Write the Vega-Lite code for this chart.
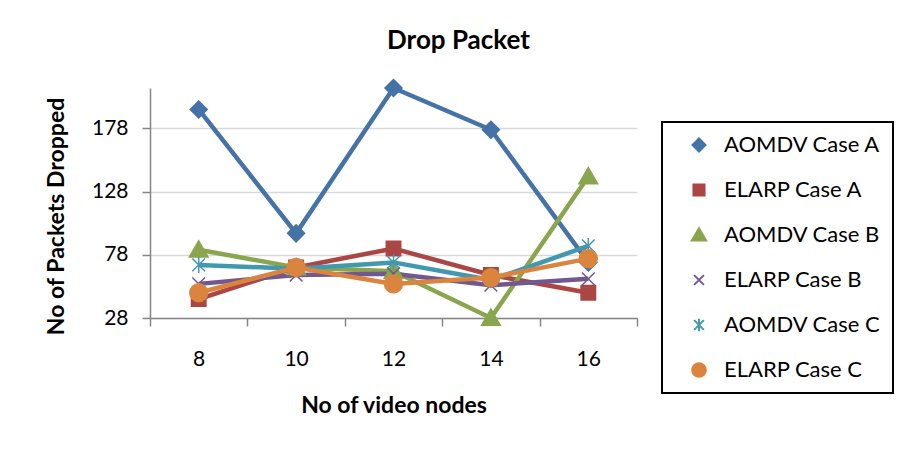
{
  "$schema": "https://vega.github.io/schema/vega-lite/v6.json",
  "width": 487,
  "height": 230,
  "padding": {"left": 45, "top": 27, "right": 5, "bottom": 5},
  "background": "white",
  "title": {"text": "Drop Packet", "font": "Lato", "fontSize": 26, "fontWeight": "bold", "color": "#000000", "anchor": "middle", "dx": 65, "offset": 23},
  "data": {
    "values": [
      {"series": "AOMDV Case A", "nodes": 8, "dropped": 193},
      {"series": "AOMDV Case A", "nodes": 10, "dropped": 95},
      {"series": "AOMDV Case A", "nodes": 12, "dropped": 210},
      {"series": "AOMDV Case A", "nodes": 14, "dropped": 177},
      {"series": "AOMDV Case A", "nodes": 16, "dropped": 72},
      {"series": "ELARP Case A", "nodes": 8, "dropped": 43},
      {"series": "ELARP Case A", "nodes": 10, "dropped": 68},
      {"series": "ELARP Case A", "nodes": 12, "dropped": 83},
      {"series": "ELARP Case A", "nodes": 14, "dropped": 62},
      {"series": "ELARP Case A", "nodes": 16, "dropped": 48},
      {"series": "AOMDV Case B", "nodes": 8, "dropped": 82},
      {"series": "AOMDV Case B", "nodes": 10, "dropped": 68},
      {"series": "AOMDV Case B", "nodes": 12, "dropped": 65},
      {"series": "AOMDV Case B", "nodes": 14, "dropped": 28},
      {"series": "AOMDV Case B", "nodes": 16, "dropped": 140},
      {"series": "ELARP Case B", "nodes": 8, "dropped": 55},
      {"series": "ELARP Case B", "nodes": 10, "dropped": 62},
      {"series": "ELARP Case B", "nodes": 12, "dropped": 63},
      {"series": "ELARP Case B", "nodes": 14, "dropped": 54},
      {"series": "ELARP Case B", "nodes": 16, "dropped": 59},
      {"series": "AOMDV Case C", "nodes": 8, "dropped": 70},
      {"series": "AOMDV Case C", "nodes": 10, "dropped": 67},
      {"series": "AOMDV Case C", "nodes": 12, "dropped": 72},
      {"series": "AOMDV Case C", "nodes": 14, "dropped": 58},
      {"series": "AOMDV Case C", "nodes": 16, "dropped": 85},
      {"series": "ELARP Case C", "nodes": 8, "dropped": 48},
      {"series": "ELARP Case C", "nodes": 10, "dropped": 68},
      {"series": "ELARP Case C", "nodes": 12, "dropped": 55},
      {"series": "ELARP Case C", "nodes": 14, "dropped": 60},
      {"series": "ELARP Case C", "nodes": 16, "dropped": 75}
    ]
  },
  "encoding": {
    "x": {
      "field": "nodes", "type": "quantitative",
      "scale": {"domain": [7, 17], "nice": false, "zero": false},
      "axis": {
        "values": [7, 9, 11, 13, 15, 17],
        "labelExpr": "datum.value < 17 ? format(datum.value + 1, 'd') : ''",
        "labelOffset": 48.7, "labelFlush": false, "labelOverlap": false,
        "grid": false,
        "title": "No of video nodes", "titleFont": "Lato", "titleFontSize": 23, "titleFontWeight": "bold", "titleColor": "#000000", "titlePadding": 25,
        "labelFont": "Lato", "labelFontSize": 21, "labelColor": "#000000", "labelPadding": 22,
        "tickSize": 8, "tickColor": "#868686", "tickWidth": 1.5,
        "domainColor": "#868686", "domainWidth": 1.5
      }
    },
    "y": {
      "field": "dropped", "type": "quantitative",
      "scale": {"domain": [28, 210], "nice": false, "zero": false},
      "axis": {
        "values": [28, 78, 128, 178],
        "title": "No of Packets Dropped", "titleFont": "Lato", "titleFontSize": 23, "titleFontWeight": "bold", "titleColor": "#000000", "titlePadding": 23,
        "titleY": 128,
        "labelFont": "Lato", "labelFontSize": 21, "labelColor": "#000000", "labelPadding": 14,
        "tickSize": 8, "tickColor": "#868686", "tickWidth": 1.5,
        "domainColor": "#868686", "domainWidth": 1.5,
        "grid": true, "gridColor": "#D9D9D9", "gridWidth": 1.5
      }
    }
  },
  "layer": [
    {
      "mark": {"type": "line", "strokeWidth": 4.5},
      "encoding": {
        "stroke": {
          "field": "series", "type": "nominal",
          "scale": {"domain": ["AOMDV Case A", "ELARP Case A", "AOMDV Case B", "ELARP Case B", "AOMDV Case C", "ELARP Case C"], "range": ["#4572A7", "#AA4643", "#89A54E", "#71588F", "#4198AF", "#DB843D"]}
        }
      }
    },
    {
      "mark": {"type": "point", "filled": true, "size": 289, "strokeWidth": 1.5, "opacity": 1},
      "encoding": {
        "fill": {
          "field": "series", "type": "nominal",
          "scale": {"domain": ["AOMDV Case A", "ELARP Case A", "AOMDV Case B", "ELARP Case B", "AOMDV Case C", "ELARP Case C"], "range": ["#4572A7", "#AA4643", "#89A54E", "#71588F", "#4198AF", "#DB843D"]}
        },
        "stroke": {
          "field": "series", "type": "nominal"
        },
        "shape": {
          "field": "series", "type": "nominal",
          "scale": {
            "domain": ["AOMDV Case A", "ELARP Case A", "AOMDV Case B", "ELARP Case B", "AOMDV Case C", "ELARP Case C"],
            "range": [
              "M0,-1L1,0L0,1L-1,0Z",
              "M-0.85,-0.85H0.85V0.85H-0.85Z",
              "M0,-1.05L1.1,0.85H-1.1Z",
              "M-0.75,-0.75L0.75,0.75M-0.75,0.75L0.75,-0.75",
              "M-0.75,-0.75L0.75,0.75M-0.75,0.75L0.75,-0.75M0,-0.95V0.95",
              "M1.05,0A1.05,1.05,0,1,1,-1.05,0A1.05,1.05,0,1,1,1.05,0Z"
            ]
          }
        }
      }
    }
  ],
  "config": {
    "view": {"stroke": null},
    "font": "Lato",
    "legend": {
      "title": null,
      "orient": "none", "legendX": 512, "legendY": 34,
      "padding": 12, "strokeColor": "#000000", "strokeWidth": 2, "fillColor": "#FFFFFF",
      "labelFont": "Lato", "labelFontSize": 22, "labelColor": "#000000",
      "symbolSize": 169, "symbolOffset": 14, "labelOffset": 14, "rowPadding": 23,
      "symbolStrokeWidth": 2,
      "symbolOpacity": 1
    }
  }
}
